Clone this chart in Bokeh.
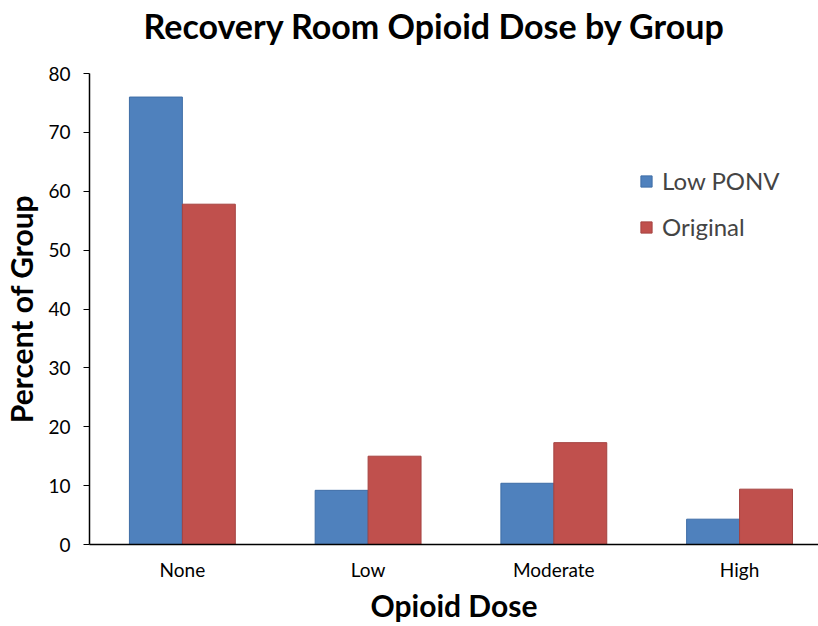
from bokeh.plotting import figure
from bokeh.models import ColumnDataSource, FixedTicker, Range1d, Legend, LegendItem, Title
from bokeh.embed import file_html
from bokeh.resources import INLINE

categories = ["None", "Low", "Moderate", "High"]
low_ponv = [76.0, 9.2, 10.4, 4.3]
original = [57.8, 15.0, 17.3, 9.4]
y_ticks = [0, 10, 20, 30, 40, 50, 60, 70, 80]
title_text = "Recovery Room Opioid Dose by Group"

FONT = "Lato"
centers = [i + 0.5 for i in range(len(categories))]
bw = 0.285

src = ColumnDataSource(dict(
    xb=[c - bw / 2 for c in centers],
    xr=[c + bw / 2 for c in centers],
    low=low_ponv,
    orig=original,
))

p = figure(width=818, height=626, output_backend="svg", toolbar_location=None,
           x_range=Range1d(0, 3.925), y_range=Range1d(0, 80),
           min_border_left=88, min_border_right=0, min_border_top=73, min_border_bottom=82)

# spacer between the frame and the title (innermost), then the real title (outer)
p.add_layout(Title(text=" ", text_font_size="10px", standoff=15), "above")
p.add_layout(Title(text=title_text, text_font=FONT, text_font_size="34px",
                   text_font_style="bold", align="left", offset=54, standoff=0,
                   text_color="black"), "above")

r1 = p.vbar(x="xb", top="low", width=bw, source=src, fill_color="#4F81BD", line_color="#3E6DA6", line_width=1)
r2 = p.vbar(x="xr", top="orig", width=bw, source=src, fill_color="#C0504D", line_color="#A54340", line_width=1)

p.xgrid.visible = False
p.ygrid.visible = False
p.outline_line_color = None

p.xaxis.ticker = FixedTicker(ticks=centers)
p.xaxis.major_label_overrides = {c: l for c, l in zip(centers, categories)}
p.xaxis.major_tick_line_color = None
p.xaxis.minor_tick_line_color = None
p.xaxis.major_label_standoff = 7
p.xaxis.major_label_text_font = FONT
p.xaxis.major_label_text_font_size = "19px"
p.xaxis.major_label_text_color = "black"
p.xaxis.axis_label = "Opioid Dose"
p.xaxis.axis_label_text_font = FONT
p.xaxis.axis_label_text_font_size = "30px"
p.xaxis.axis_label_text_font_style = "bold"
p.xaxis.axis_label_text_color = "black"
p.xaxis.axis_label_standoff = 3
p.xaxis.axis_line_color = "black"
p.xaxis.axis_line_width = 1.5

p.yaxis.ticker = FixedTicker(ticks=y_ticks)
p.yaxis.minor_tick_line_color = None
p.yaxis.major_tick_in = 0
p.yaxis.major_tick_out = 6
p.yaxis.major_tick_line_color = "black"
p.yaxis.major_label_standoff = 13
p.yaxis.major_label_text_font = FONT
p.yaxis.major_label_text_font_size = "19px"
p.yaxis.major_label_text_color = "black"
p.yaxis.axis_label = "Percent of Group"
p.yaxis.axis_label_text_font = FONT
p.yaxis.axis_label_text_font_size = "30px"
p.yaxis.axis_label_text_font_style = "bold"
p.yaxis.axis_label_text_color = "black"
p.yaxis.axis_label_standoff = 6
p.yaxis.axis_line_color = "black"
p.yaxis.axis_line_width = 1.5

legend = Legend(items=[LegendItem(label="Low PONV", renderers=[r1]),
                       LegendItem(label="Original", renderers=[r2])],
                location=(550, 303), padding=0, margin=0, spacing=17,
                glyph_width=14, glyph_height=14, label_height=26, label_standoff=9,
                label_text_font=FONT, label_text_font_size="24px",
                border_line_color=None, background_fill_alpha=0)
p.add_layout(legend, "center")

open("out.html", "w").write(file_html(p, INLINE))
